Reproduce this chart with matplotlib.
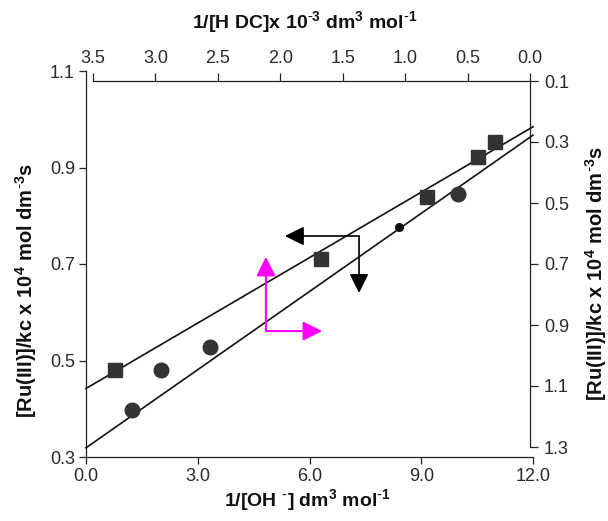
import matplotlib
matplotlib.use("Agg")
import matplotlib.pyplot as plt
import numpy as np

plt.rcParams['font.family'] = ['Liberation Sans', 'DejaVu Sans']
plt.rcParams['mathtext.default'] = 'regular'

# ---- data ----
square_x = [0.78, 6.31, 9.15, 10.52, 10.98]
square_y = [0.480, 0.710, 0.839, 0.922, 0.953]
circle_x = [1.23, 2.01, 3.33, 9.99]
circle_y = [0.397, 0.480, 0.528, 0.845]
small_x = [8.40]
small_y = [0.777]
# fitted lines: (intercept, slope)
upper_line = (0.442, 0.0452)
lower_line = (0.319, 0.0540)
line_x = [0.0, 12.0]

bottom_ticks = [0.0, 3.0, 6.0, 9.0, 12.0]
left_ticks = [0.3, 0.5, 0.7, 0.9, 1.1]
top_ticks = [3.5, 3.0, 2.5, 2.0, 1.5, 1.0, 0.5, 0.0]
right_ticks = [0.1, 0.3, 0.5, 0.7, 0.9, 1.1, 1.3]

W, H = 608, 521
fig = plt.figure(figsize=(W / 100, H / 100), dpi=100)
fig.patch.set_facecolor('white')

tc = '#2a2a2a'
ax = fig.add_axes([86 / W, 1 - 457 / H, 447 / W, 386 / H])
ax2 = fig.add_axes([93 / W, 1 - 447 / H, 437 / W, 366 / H])
ax2.patch.set_alpha(0)

# main axes (bottom / left)
ax.set_xlim(0, 12)
ax.set_ylim(0.3, 1.1)
for s in ['top', 'right']:
    ax.spines[s].set_visible(False)
for s in ['left', 'bottom']:
    ax.spines[s].set_linewidth(0.9)
    ax.spines[s].set_color('#222222')
ax.set_xticks(bottom_ticks)
ax.set_xticklabels([f"{v:.1f}" for v in bottom_ticks])
ax.set_yticks(left_ticks)
ax.set_yticklabels([f"{v:.1f}" for v in left_ticks])
ax.tick_params(direction='out', length=5, width=0.9, labelsize=13,
               colors='#222222', labelcolor=tc, pad=3)

# secondary axes (top / right)
ax2.set_xlim(3.5, 0.0)
ax2.set_ylim(1.3, 0.1)
for s in ['left', 'bottom']:
    ax2.spines[s].set_visible(False)
for s in ['top', 'right']:
    ax2.spines[s].set_linewidth(0.9)
    ax2.spines[s].set_color('#222222')
ax2.xaxis.set_ticks_position('top')
ax2.xaxis.set_label_position('top')
ax2.yaxis.set_ticks_position('right')
ax2.yaxis.set_label_position('right')
ax2.set_xticks(top_ticks)
ax2.set_xticklabels([f"{v:.1f}" for v in top_ticks])
ax2.set_yticks(right_ticks)
ax2.set_yticklabels([f"{v:.1f}" for v in right_ticks])
ax2.tick_params(direction='out', length=6, width=0.9, labelsize=13,
                colors='#222222', labelcolor=tc, pad=4)

# lines
lx = np.array(line_x)
for b, m in (upper_line, lower_line):
    ax.plot(lx, b + m * lx, color='#111111', lw=1.2, zorder=2, clip_on=False)

# points
mc = '#333333'
ax.plot(square_x, square_y, 's', ms=9.5, color=mc, mec=mc, zorder=3)
ax.plot(circle_x, circle_y, 'o', ms=10.5, color=mc, mec=mc, zorder=3)
ax.plot(small_x, small_y, 'o', ms=5.5, color='#111111', zorder=3)

# arrows
astyle = '-|>,head_length=0.9,head_width=0.45'
def arrow(x0, y0, x1, y1, col, lw):
    ax.annotate('', xy=(x1, y1), xytext=(x0, y0),
                arrowprops=dict(arrowstyle=astyle, color=col, lw=lw,
                                mutation_scale=13, shrinkA=0, shrinkB=0),
                zorder=4)

arrow(7.33, 0.758, 5.34, 0.758, '#000000', 1.2)
arrow(7.33, 0.758, 7.33, 0.640, '#000000', 1.2)
arrow(4.83, 0.561, 4.83, 0.715, '#ff00ff', 1.5)
arrow(4.83, 0.561, 6.34, 0.561, '#ff00ff', 1.5)

# labels
fig.text(307 / W, 1 - 500 / H, r'1/[OH $^{\text{-}}$] dm$^{3}$ mol$^{\text{-}1}$',
         ha='center', va='center', fontsize=14, fontweight='bold', color='#111111')
fig.text(305 / W, 1 - 22 / H, r'1/[H DC]x 10$^{\text{-}3}$ dm$^{3}$ mol$^{\text{-}1}$',
         ha='center', va='center', fontsize=14, fontweight='bold', color='#111111')
ylab = r'[Ru(III)]/kc x 10$^{4}$ mol dm$^{\text{-}3}$s'
fig.text(26 / W, 1 - 291 / H, ylab, rotation=90, ha='center', va='center',
         fontsize=14.5, fontweight='bold', color='#111111')
fig.text(596 / W, 1 - 274 / H, ylab, rotation=90, ha='center', va='center',
         fontsize=14.5, fontweight='bold', color='#111111')

fig.savefig('out.png', dpi=100)
